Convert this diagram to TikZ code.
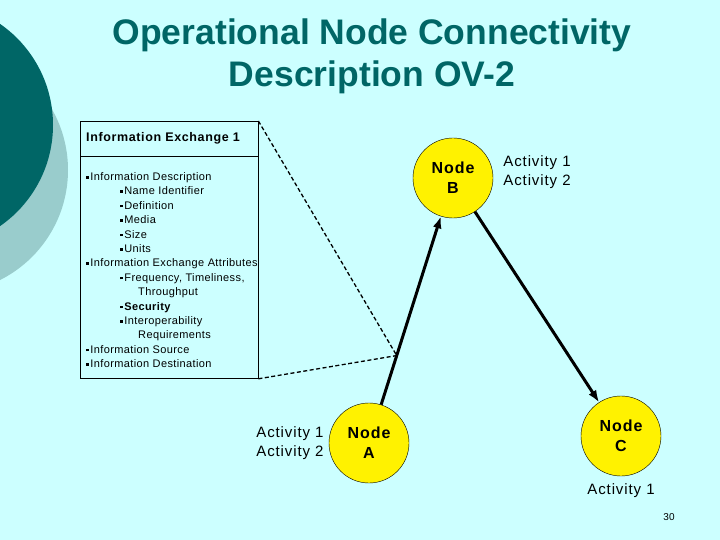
\documentclass[tikz,border=0pt]{standalone}
\usepackage{fontspec}
\setmainfont{Liberation Sans}
\newfontfamily\widefont[LetterSpace=6]{Liberation Sans}
\newfontfamily\boxfont[LetterSpace=3.5]{Liberation Sans}
\newfontfamily\hdrfont[LetterSpace=5]{Liberation Sans}
\usepackage{xcolor}
\usetikzlibrary{arrows.meta, positioning, calc}

\definecolor{slidebg}{HTML}{CCFFFF}
\definecolor{darkteal}{HTML}{006666}
\definecolor{paleteal}{HTML}{99CCCC}
\newcommand{\sqbullet}{\rule[2pt]{2.6pt}{2.6pt}\hspace{1.6pt}}

\begin{document}
\begin{tikzpicture}[
    x=1pt, y=-1pt,
    opnode/.style={circle, draw=black, fill=yellow, minimum size=80pt, inner sep=0pt, align=center, font=\widefont\fontsize{16}{20}\selectfont\bfseries},
    activity/.style={inner sep=0pt, font=\widefont\fontsize{15}{19}\selectfont},
    hdrbox/.style={rectangle, draw=black, text width=166pt, inner xsep=6pt, minimum height=35pt, align=left, font=\hdrfont\fontsize{12.5}{14}\selectfont\bfseries},
    bodybox/.style={rectangle, draw=black, minimum width=178pt, minimum height=222pt},
    link/.style={draw=black, line width=3pt, -{Latex[length=12pt, width=9pt]}},
    trace/.style={draw=black, line width=1.3pt, dash pattern=on 4pt off 2.5pt}
]
    % Slide background and decoration
    \useasboundingbox (0,0) rectangle (720,540);
    \fill [slidebg] (0,0) rectangle (720,540);
    \begin{scope}
        \clip (0,0) rectangle (720,540);
        \fill [paleteal] (-55,170) circle [radius=123pt];
        \fill [darkteal] (-70,125) circle [radius=123pt];
    \end{scope}

    % Title
    \node [align=center, text=darkteal, font=\fontsize{35.5}{42}\selectfont\bfseries] (title) at (372,56) {Operational Node Connectivity\\Description OV-2};

    % Information exchange box
    \node [hdrbox, anchor=north west] (hdr) at (80,121) {Information Exchange 1};
    \node [bodybox, below=0pt of hdr] (body) {};
    \node [anchor=north west, inner sep=0pt, align=left, font=\boxfont\fontsize{11}{14.4}\selectfont] (attrs) at ([xshift=6pt, yshift=-16pt]body.north west) {%
        \sqbullet Information Description\\
        \hspace*{34pt}\sqbullet Name Identifier\\
        \hspace*{34pt}\sqbullet Definition\\
        \hspace*{34pt}\sqbullet Media\\
        \hspace*{34pt}\sqbullet Size\\
        \hspace*{34pt}\sqbullet Units\\
        \sqbullet Information Exchange Attributes\\
        \hspace*{34pt}\sqbullet Frequency, Timeliness,\\
        \hspace*{52pt}Throughput\\
        \hspace*{34pt}\textbf{\sqbullet Security}\\
        \hspace*{34pt}\sqbullet Interoperability\\
        \hspace*{52pt}Requirements\\
        \sqbullet Information Source\\
        \sqbullet Information Destination};

    % Operational nodes
    \node [opnode] (nodeB) at (453,178) {Node\\B};
    \node [opnode] (nodeA) at (369,443) {Node\\A};
    \node [opnode] (nodeC) at (621,436) {Node\\C};

    % Activities
    \node [activity, align=left, right=10pt of nodeB, yshift=5.5pt] (actB) {Activity 1\\Activity 2};
    \node [activity, align=right, left=5pt of nodeA] (actA) {Activity 1\\Activity 2};
    \node [activity, below=7pt of nodeC] (actC) {Activity 1};

    % Needlines
    \path [link] (nodeA) -- (nodeB);
    \path [link] (nodeB) -- (nodeC);

    % Exchange callout
    \coordinate (meet) at ($(nodeA)!0.33!(nodeB)$);
    \path [trace] (hdr.north east) -- (meet);
    \path [trace] (body.south east) -- (meet);

    % Page number
    \node [font=\fontsize{10}{12}\selectfont] (page) at (669,517) {30};
\end{tikzpicture}
\end{document}
